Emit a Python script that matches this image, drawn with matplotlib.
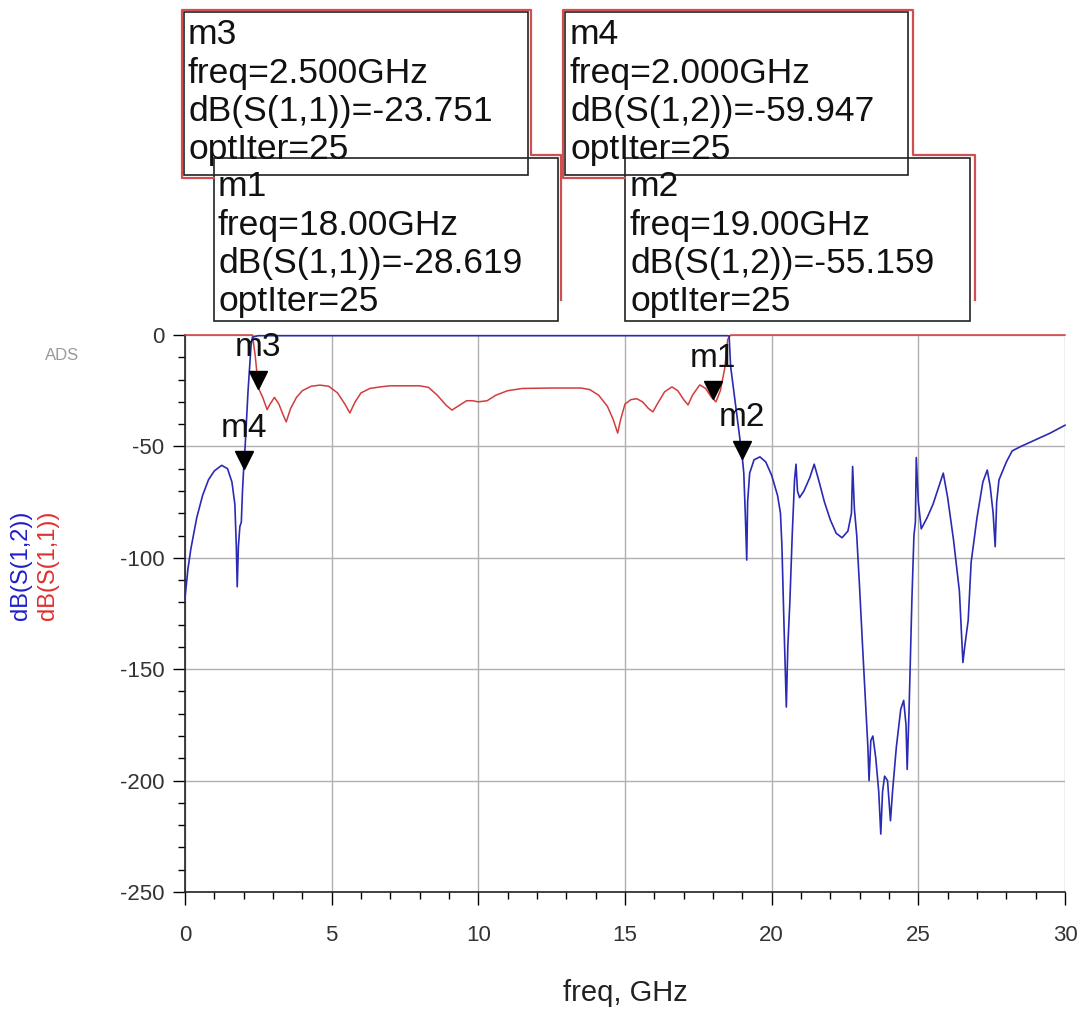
import matplotlib
matplotlib.use("Agg")
import matplotlib.pyplot as plt
from matplotlib.transforms import offset_copy
from matplotlib.patches import Rectangle
from matplotlib.lines import Line2D

plt.rcParams['font.family'] = ['Liberation Sans', 'DejaVu Sans']
plt.rcParams['axes.unicode_minus'] = False

# ---------------- data ----------------
s12_freq = [0.0, 0.1, 0.2, 0.4, 0.6, 0.8, 1.0, 1.25, 1.45, 1.6, 1.7, 1.75, 1.78, 1.82, 1.87, 1.92, 1.96,
            2.0, 2.05, 2.15, 2.25, 2.3, 2.5, 18.3, 18.5, 18.55, 18.6, 19.0, 19.05, 19.1, 19.15, 19.18,
            19.25, 19.4, 19.6, 19.8, 20.0, 20.2, 20.3, 20.35, 20.42, 20.5, 20.55, 20.62, 20.7, 20.78,
            20.83, 20.88, 20.95, 21.1, 21.3, 21.45, 21.6, 21.8, 22.0, 22.2, 22.4, 22.6, 22.72, 22.76,
            22.82, 22.9, 23.0, 23.1, 23.2, 23.28, 23.32, 23.38, 23.45, 23.55, 23.65, 23.72, 23.78,
            23.85, 23.95, 24.05, 24.12, 24.25, 24.4, 24.5, 24.58, 24.62, 24.68, 24.72, 24.78, 24.85,
            24.9, 24.93, 25.0, 25.1, 25.3, 25.5, 25.7, 25.85, 26.0, 26.2, 26.4, 26.52, 26.58, 26.7,
            26.8, 27.0, 27.2, 27.35, 27.45, 27.55, 27.62, 27.67, 27.75, 28.0, 28.2, 28.5, 29.0, 29.5, 30.0]
s12_db = [-118, -105, -96, -82, -72, -65, -61, -58.5, -60, -66, -76, -95, -113, -95, -86, -84, -70,
          -59.947, -50, -25, -5, -1, -0.3, -0.3, -0.3, -0.5, -14, -55.159, -62, -80, -101, -75,
          -62, -56, -54.7, -57, -63, -72, -80, -95, -130, -167, -140, -120, -90, -65,
          -58, -70, -73, -70, -64, -58, -65, -75, -83, -89, -91, -88, -80, -59,
          -78, -90, -114, -140, -165, -185, -200, -182, -180, -190, -205, -224, -205,
          -198, -200, -218, -205, -185, -168, -164, -175, -195, -170, -150, -119, -90,
          -84, -55, -75, -87, -82, -76, -68, -62, -73, -92, -115, -147, -140, -128,
          -102, -82, -66, -60.6, -68, -80, -95, -75, -65, -57, -52, -50, -47, -44, -40.5]

s11_freq = [0.0, 2.3, 2.4, 2.5, 2.65, 2.8, 2.9, 3.05, 3.2, 3.35, 3.45, 3.6, 3.8, 4.0, 4.3, 4.6, 4.9,
            5.2, 5.45, 5.62, 5.8, 6.0, 6.3, 6.65, 7.0, 8.0, 8.3, 8.6, 8.9, 9.1, 9.3, 9.6, 9.8, 10.0,
            10.3, 10.6, 11.0, 11.5, 12.5, 13.5, 13.8, 14.1, 14.4, 14.6, 14.75, 14.85, 15.0, 15.2,
            15.4, 15.6, 15.8, 15.95, 16.1, 16.35, 16.6, 16.8, 17.0, 17.15, 17.3, 17.55, 17.75,
            17.95, 18.0, 18.1, 18.25, 18.4, 18.5, 18.6, 30.0]
s11_db = [0, 0, -10, -23.751, -28, -33.5, -31, -28, -31, -36, -39, -33, -28, -25, -23, -22.5, -23,
          -26, -31, -35, -30, -26, -24, -23.3, -22.8, -22.8, -23.5, -27, -31.5, -33.7, -32, -29.5,
          -29.5, -30, -29.5, -27, -25, -24, -23.8, -23.8, -24.5, -27, -32, -38, -44, -38, -31,
          -29, -28.6, -30, -33, -34.5, -31, -25.5, -23.3, -25, -29, -31.4, -27, -22.4, -24,
          -28, -28.619, -30, -25, -15, -2, 0, 0]

marker_names = ['m1', 'm2', 'm3', 'm4']
marker_freqs = [18.0, 19.0, 2.5, 2.0]
marker_traces = ['S(1,1)', 'S(1,2)', 'S(1,1)', 'S(1,2)']
marker_values = [-28.619, -55.159, -23.751, -59.947]
opt_iter = 25

x_ticks = [0, 5, 10, 15, 20, 25, 30]
y_ticks = [0, -50, -100, -150, -200, -250]

# ---------------- figure ----------------
W, H = 1081, 1011
fig = plt.figure(figsize=(W / 100, H / 100), dpi=100)
fig.patch.set_facecolor('white')

def fx(px):
    return px / W

def fy(py):
    return 1 - py / H

ax = fig.add_axes([fx(185), fy(892), (1065 - 185) / W, (892 - 335) / H])
blue = '#2a2ab4'
red = '#d23c3c'
ax.plot(s11_freq, s11_db, color=red, lw=1.1, clip_on=False, zorder=3)
ax.plot(s12_freq, s12_db, color=blue, lw=1.2, clip_on=False, zorder=4)

ax.set_xlim(0, 30)
ax.set_ylim(-250, 0)
ax.set_xticks(x_ticks)
ax.set_xticks(range(0, 31), minor=True)
ax.set_yticks(y_ticks)
ax.set_yticks(range(-250, 1, 10), minor=True)
ax.grid(True, which='major', color='#b0b0b0', lw=1.0)
for s in ['top', 'right']:
    ax.spines[s].set_visible(False)
for s in ['left', 'bottom']:
    ax.spines[s].set_color('#222222')
    ax.spines[s].set_linewidth(1.2)
ax.tick_params(axis='x', which='major', direction='out', length=9, width=1, pad=15,
               labelsize=16, labelcolor='#333333')
ax.tick_params(axis='x', which='minor', direction='out', length=5, width=1)
ax.tick_params(axis='y', which='major', direction='out', length=9, width=1, pad=6,
               labelsize=16, labelcolor='#333333')
ax.tick_params(axis='y', which='minor', direction='out', length=5, width=1)

# markers
data_tr = offset_copy(ax.transData, fig=fig, y=6, units='points')
for name, f, v in zip(marker_names, marker_freqs, marker_values):
    ax.plot([f], [v], marker='v', color='black', ms=13, transform=data_tr,
            clip_on=False, zorder=6)
    ax.annotate(name, (f, v), xytext=(0, 29), textcoords='offset points',
                ha='center', va='center', fontsize=24, color='#111111', zorder=7)

# axis labels
fig.text(fx(625), fy(993), 'freq, GHz', ha='center', va='center', fontsize=21, color='#222222')
fig.text(fx(21), fy(565), 'dB(S(1,2))', rotation=90, ha='center', va='center',
         fontsize=17, color='#1f1fc8')
fig.text(fx(48), fy(565), 'dB(S(1,1))', rotation=90, ha='center', va='center',
         fontsize=17, color='#e03030')
fig.text(fx(62), fy(355), 'ADS', ha='center', va='center', fontsize=12, color='#9a9a9a')

# marker readout boxes
box_geom = {  # name: (left, top, right, bottom, text_left, first_line_y)
    'm3': (184, 12, 528, 175, 188, 35),
    'm1': (214, 158, 558, 321, 218, 187),
    'm4': (565, 12, 908, 175, 570, 35),
    'm2': (625, 158, 970, 321, 630, 187),
}
# red selection outlines
for pts in ([(214, 178), (182, 178), (182, 10), (531, 10), (531, 155), (561, 155), (561, 300)],
            [(625, 178), (563, 178), (563, 10), (913, 10), (913, 155), (975, 155), (975, 300)]):
    fig.add_artist(Line2D([fx(p[0]) for p in pts], [fy(p[1]) for p in pts],
                          color='#d05050', lw=1.6, transform=fig.transFigure))

for name, f, tr, v in zip(marker_names, marker_freqs, marker_traces, marker_values):
    l, t, r, b, tl, ly = box_geom[name]
    fig.add_artist(Rectangle((fx(l), fy(b)), (r - l) / W, (b - t) / H, fill=False,
                             edgecolor='#222222', lw=1.2, transform=fig.transFigure))
    lines = [name, f"freq={f:#.4g}GHz", f"dB({tr})={v:.3f}", f"optIter={opt_iter}"]
    for i, s in enumerate(lines):
        fig.text(fx(tl), fy(ly + i * 38), s, ha='left', va='center', fontsize=25.5,
                 color='#111111')

fig.savefig('out.png', dpi=100, facecolor='white')
